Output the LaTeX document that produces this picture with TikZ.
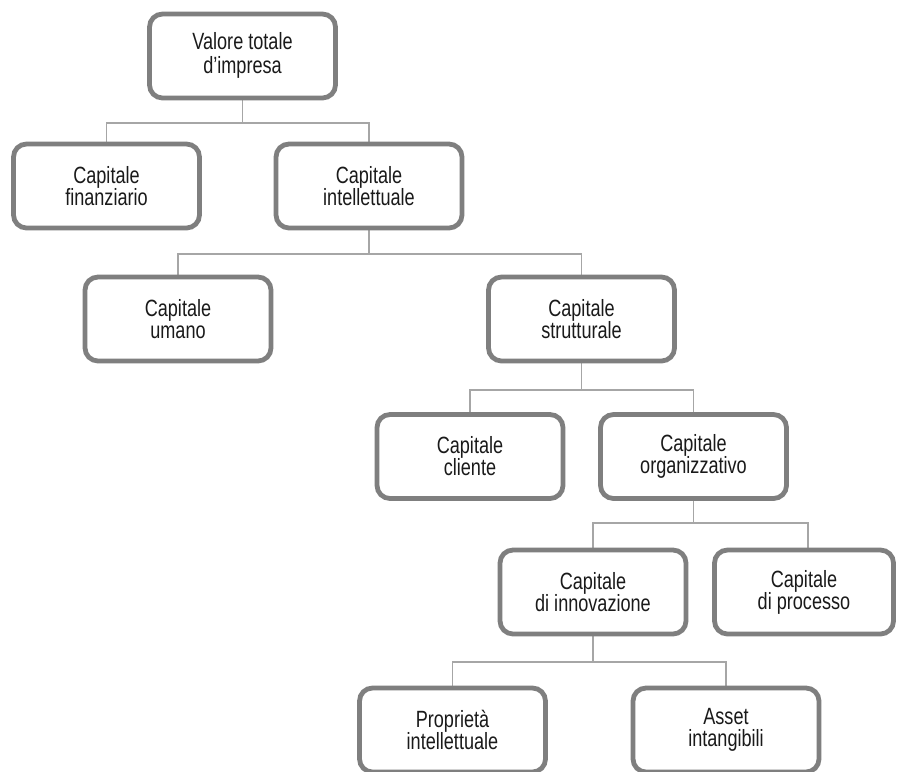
\documentclass[tikz,border=0pt]{standalone}
\usepackage{fontspec}
\setmainfont{Liberation Sans}[FakeStretch=0.77]
\usetikzlibrary{backgrounds}
\definecolor{boxgray}{HTML}{7F7F7F}
\definecolor{linegray}{HTML}{A6A6A6}
\definecolor{txt}{HTML}{1A1A1A}
\begin{document}
\begin{tikzpicture}[x=1pt,y=-1pt,
  box/.style={draw=boxgray, line width=4.8pt, rounded corners=13pt, fill=white,
    minimum width=186pt, minimum height=84pt, inner sep=0pt, align=center,
    text=txt, font=\fontsize{23.5}{22}\selectfont},
  conn/.style={draw=linegray, line width=1.8pt}]
\useasboundingbox (0,0) rectangle (898,772);
\clip (0,0) rectangle (898,772);

\node[box] (top) at (242.5,56) {\raisebox{-5pt}{\begin{tabular}{@{}c@{}}Valore totale\\d’impresa\end{tabular}}};
\node[box] (fin) at (106.5,186) {Capitale\\finanziario};
\node[box] (int) at (369,186) {Capitale\\intellettuale};
\node[box] (uma) at (178,319) {Capitale\\umano};
\node[box] (str) at (581.5,319) {Capitale\\strutturale};
\node[box] (cli) at (470,456.5) {Capitale\\cliente};
\node[box] (org) at (693.5,456.5) {Capitale\\organizzativo};
\node[box] (inn) at (593,592) {Capitale\\di innovazione};
\node[box, minimum width=179pt] (pro) at (804,592) {Capitale\\di processo};
\node[box] (prop) at (452.5,730) {Proprietà\\intellettuale};
\node[box] (ast) at (726,730) {Asset\\intangibili};

\coordinate (b1) at (0,123);
\coordinate (b2) at (0,254);
\coordinate (b3) at (0,390);
\coordinate (b4) at (0,523);
\coordinate (b5) at (0,662);

\begin{scope}[on background layer]
\fill[white] (0,0) rectangle (898,772);
\draw[conn] (top.south) -- (top.south |- b1);
\draw[conn] (fin.north) -- (fin.north |- b1) -- (int.north |- b1) -- (int.north);
\draw[conn] (int.south) -- (int.south |- b2);
\draw[conn] (uma.north) -- (uma.north |- b2) -- (str.north |- b2) -- (str.north);
\draw[conn] (str.south) -- (str.south |- b3);
\draw[conn] (cli.north) -- (cli.north |- b3) -- (org.north |- b3) -- (org.north);
\draw[conn] (org.south) -- (org.south |- b4);
\draw[conn] (inn.north) -- (inn.north |- b4) -- ([xshift=4pt]pro.north |- b4) -- ([xshift=4pt]pro.north);
\draw[conn] (inn.south) -- (inn.south |- b5);
\draw[conn] (prop.north) -- (prop.north |- b5) -- (ast.north |- b5) -- (ast.north);
\end{scope}
\end{tikzpicture}
\end{document}
